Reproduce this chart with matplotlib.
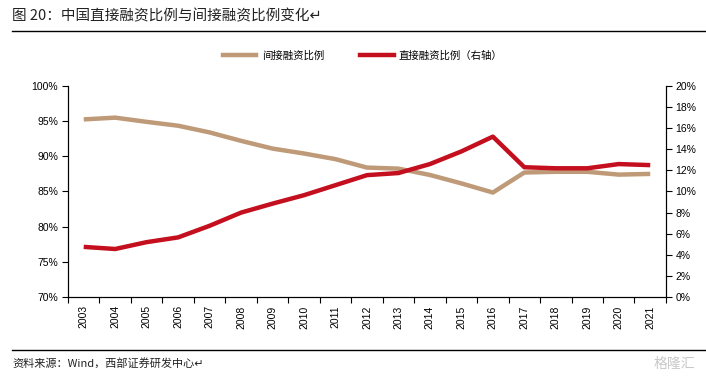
import numpy as np
import matplotlib.pyplot as plt
from matplotlib.lines import Line2D

plt.rcParams['font.family'] = ['Liberation Sans', 'Noto Sans CJK SC', 'DejaVu Sans']

years = [str(y) for y in range(2003, 2022)]
indirect = [95.25, 95.5, 94.9, 94.35, 93.4, 92.2, 91.1, 90.4, 89.6, 88.4,
            88.25, 87.35, 86.15, 84.85, 87.7, 87.8, 87.8, 87.4, 87.5]
direct = [4.75, 4.55, 5.2, 5.65, 6.75, 8.0, 8.85, 9.65, 10.6, 11.55,
          11.75, 12.6, 13.8, 15.2, 12.3, 12.2, 12.2, 12.6, 12.5]

tan = '#BE9A78'
red = '#C40F1E'
cjk = ['Noto Sans CJK SC', 'DejaVu Sans']

fig = plt.figure(figsize=(7.06, 3.78), dpi=100)
ax = fig.add_axes([0.0963, 0.2143, 0.8470, 0.5582])
ax2 = ax.twinx()

x = np.arange(len(years))
ax.plot(x, indirect, color=tan, lw=3.2, solid_capstyle='butt')
ax2.plot(x, direct, color=red, lw=3.2, solid_capstyle='butt')

ax.set_xlim(-0.5, len(years) - 0.5)
ax.set_ylim(70, 100)
ax.set_yticks(range(70, 101, 5))
ax.set_yticklabels([f'{v}%' for v in range(70, 101, 5)])
ax2.set_ylim(0, 20)
ax2.set_yticks(range(0, 21, 2))
ax2.set_yticklabels([f'{v}%' for v in range(0, 21, 2)])

ax.set_xticks(x)
ax.set_xticklabels(years, rotation=90)
ax.set_xticks(np.arange(-0.5, len(years), 1), minor=True)
ax.tick_params(axis='x', which='major', length=0, labelsize=7.5, pad=6)
ax.tick_params(axis='x', which='minor', length=4, direction='out', width=0.8)
ax.tick_params(axis='y', length=4, width=0.8, labelsize=7.5, pad=3)
ax2.tick_params(axis='y', length=4, width=0.8, labelsize=7.5, pad=3)

for a in (ax, ax2):
    a.spines['top'].set_visible(False)
    for s in ('left', 'right', 'bottom'):
        a.spines[s].set_linewidth(0.8)

handles = [Line2D([], [], color=tan, lw=3.2), Line2D([], [], color=red, lw=3.2)]
fig.legend(handles, ['间接融资比例', '直接融资比例（右轴）'], loc='center',
           bbox_to_anchor=(0.514, 0.852), ncol=2, frameon=False,
           prop={'family': cjk, 'size': 7.5}, handlelength=3.2,
           columnspacing=3.5, handletextpad=0.5)

fig.text(0.017, 0.958, '图 20：中国直接融资比例与间接融资比例变化↵', family=cjk,
         fontsize=10.5, va='center', ha='left', color='#222222')
fig.add_artist(Line2D([0.017, 1.0], [0.918, 0.918], color='black', lw=1.0))
fig.add_artist(Line2D([0.017, 1.0], [0.074, 0.074], color='black', lw=1.0))
fig.text(0.017, 0.038, '资料来源：Wind，西部证券研发中心↵', family=cjk,
         fontsize=8, va='center', ha='left', color='#222222')
fig.text(0.985, 0.038, '格隆汇', family=cjk, fontsize=10, va='center',
         ha='right', color='#C8C8C8')

fig.savefig('out.png', dpi=100)
